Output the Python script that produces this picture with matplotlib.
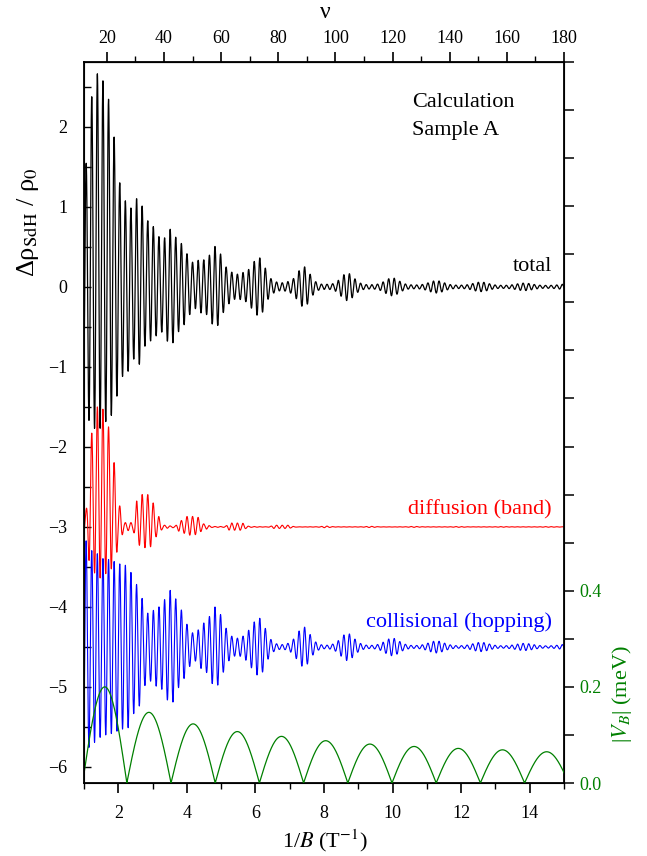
import matplotlib

matplotlib.use("Agg")
import matplotlib.pyplot as plt
import numpy as np
from matplotlib.ticker import FuncFormatter, MultipleLocator

plt.rcParams["font.family"] = "serif"
plt.rcParams["font.serif"] = ["Liberation Serif", "DejaVu Serif"]
plt.rcParams["mathtext.fontset"] = "stix"

# |V_B| (meV): zeros of the arcs start at vb_zero0 and repeat every vb_step (1/B),
# peak value of each arc, left to right
vb_zero0 = 0.96
vb_step = 1.289
vb_arc_peak = [0.200, 0.147, 0.123, 0.107, 0.097, 0.088, 0.081, 0.076, 0.072, 0.069, 0.065]

# SdH carrier: frequency in T and 1/B of one resolved maximum
sdh_freq = 6.12
sdh_max_at = 1.389

# oscillation envelopes (1/B, half peak-to-peak)
diff_knot_x = [1.0, 1.2, 1.45, 1.75, 1.9, 2.05, 2.2, 2.4, 2.55, 2.75, 2.95, 3.15, 3.35,
               3.6, 3.8, 4.05, 4.3, 4.55, 4.8, 5.05, 5.25, 5.6, 5.9, 6.3, 6.55, 6.95,
               7.25, 7.7, 8.05, 8.4, 9.0, 9.35, 9.7, 10.3, 10.6, 11.0, 11.6, 11.9,
               12.3, 12.9, 13.2, 13.5, 14.2, 14.5, 15.0]
diff_knot_amp = [0.12, 0.85, 1.1, 0.9, 0.6, 0.22, 0.05, 0.05, 0.28, 0.34, 0.32, 0.13, 0.02,
                 0.01, 0.07, 0.12, 0.11, 0.03, 0.005, 0.005, 0.045, 0.045, 0.005, 0.002, 0.02,
                 0.02, 0.002, 0.002, 0.01, 0.002, 0.002, 0.007, 0.002, 0.002, 0.006, 0.002,
                 0.002, 0.005, 0.002, 0.002, 0.004, 0.002, 0.002, 0.004, 0.002]
coll_knot_x = [1.0, 1.25, 1.6, 2.25, 2.55, 2.88, 3.17, 3.54, 3.86, 4.02, 4.2, 4.5, 4.83,
               5.46, 6.11, 6.76, 7.41, 8.05, 8.68, 9.34, 9.99, 10.63, 11.28, 11.93,
               12.58, 13.2, 13.84, 14.5, 15.13]
coll_knot_amp = [1.35, 1.2, 1.1, 1.02, 0.78, 0.42, 0.5, 0.71, 0.46, 0.28, 0.17, 0.3, 0.5,
                 0.11, 0.36, 0.03, 0.25, 0.022, 0.17, 0.02, 0.11, 0.018, 0.075, 0.016,
                 0.058, 0.015, 0.045, 0.014, 0.035]
diff_bg_scale = 0.40  # non-oscillating shift that goes with the diffusion bursts

diff_offset = -3.0
coll_offset = -4.5

labels = ["total", "diffusion (band)", "collisional (hopping)"]
label_y = [0.26, -2.78, -4.19]
label_colors = ["black", "red", "blue"]


def envelope(x, kx, ka):
    kx = np.asarray(kx)
    la = np.log(np.asarray(ka))
    i = np.clip(np.searchsorted(kx, x) - 1, 0, len(kx) - 2)
    t = np.clip((x - kx[i]) / (kx[i + 1] - kx[i]), 0, 1)
    w = 0.5 - 0.5 * np.cos(np.pi * t)
    return np.exp(la[i] * (1 - w) + la[i + 1] * w)


def vb_curve(x):
    k = np.clip(np.floor((x - vb_zero0) / vb_step).astype(int), 0, len(vb_arc_peak) - 1)
    ph = (x - vb_zero0) / vb_step - k
    return np.asarray(vb_arc_peak)[k] * np.abs(np.sin(np.pi * ph))


x = np.linspace(1, 15, 8000)
carrier = np.cos(2 * np.pi * sdh_freq * (x - sdh_max_at))
env_d = envelope(x, diff_knot_x, diff_knot_amp)
env_c = envelope(x, coll_knot_x, coll_knot_amp)
diff = env_d * carrier + diff_bg_scale * env_d ** 1.5
coll = env_c * carrier
total = diff + coll

fig = plt.figure(figsize=(6.47, 8.56), dpi=100)
ax = fig.add_axes([84 / 647, 73 / 856, 480 / 647, 721 / 856])
ax.plot(x, total, color="black", lw=0.9)
ax.plot(x, diff + diff_offset, color="red", lw=0.8)
ax.plot(x, coll + coll_offset, color="blue", lw=0.8)
ax.set_xlim(1, 15)
ax.set_ylim(-6.2, 2.81)
ax.xaxis.set_major_locator(MultipleLocator(2))
ax.xaxis.set_minor_locator(MultipleLocator(1))
ax.yaxis.set_major_locator(MultipleLocator(1))
ax.yaxis.set_minor_locator(MultipleLocator(0.5))
ax.yaxis.set_major_formatter(FuncFormatter(lambda v, p: f"{v:g}".replace("-", "\u2212")))
ax.tick_params(axis="y", which="both", direction="in", length=5, width=1, labelsize=13,
               right=False, pad=12)
ax.tick_params(axis="x", which="major", direction="out", length=7.5, width=1.2, labelsize=13,
               top=False, pad=8)
ax.tick_params(axis="x", which="minor", direction="out", length=4, width=1, top=False)
for sp in ax.spines.values():
    sp.set_linewidth(1.3)

for txt, yy, c in zip(labels, label_y, label_colors):
    ax.text(14.65, yy, txt, color=c, fontsize=16, ha="right", va="center")
ax.text(10.56, 2.3, "Calculation", fontsize=16, ha="left", va="center")
ax.text(10.56, 1.96, "Sample A", fontsize=16, ha="left", va="center")

# |V_B| on the right axis
ax2 = ax.twinx()
ax2.plot(x, vb_curve(x), color="#008000", lw=0.9)
ax2.set_ylim(0, 1.5)
ax2.yaxis.set_major_locator(MultipleLocator(0.2))
ax2.yaxis.set_minor_locator(MultipleLocator(0.1))
ax2.yaxis.set_major_formatter(FuncFormatter(lambda v, p: f"{v:.1f}" if v < 0.45 else ""))
ax2.tick_params(axis="y", which="both", direction="out", length=7.5, width=1.1,
                labelsize=13, colors="black", labelcolor="#008000")

# filling factor on top
top = ax.secondary_xaxis("top", functions=(lambda v: 12 * v, lambda n: n / 12))
top.xaxis.set_major_locator(MultipleLocator(20))
top.xaxis.set_minor_locator(MultipleLocator(10))
top.tick_params(which="major", direction="out", length=7.5, width=1.2, labelsize=13)
top.tick_params(which="minor", direction="out", length=4, width=1)

fig.text(325 / 647, 1 - 13 / 856, "\u03bd", fontsize=17, ha="center", va="center")
fig.text(325 / 647, 1 - 841 / 856, r"1/$B$ (T$^{-1}$)", fontsize=16, ha="center",
         va="center")
fig.text(622 / 647, 1 - 694 / 856, r"|$V_B$| (meV)", color="#008000", fontsize=16,
         rotation=90, ha="center", va="center")
fig.text(28 / 647, 1 - 222 / 856, "\u0394\u03c1$_{\\rm SdH}$ / \u03c1$_0$", fontsize=19,
         rotation=90, ha="center", va="center")

fig.savefig("out.png", dpi=100)
